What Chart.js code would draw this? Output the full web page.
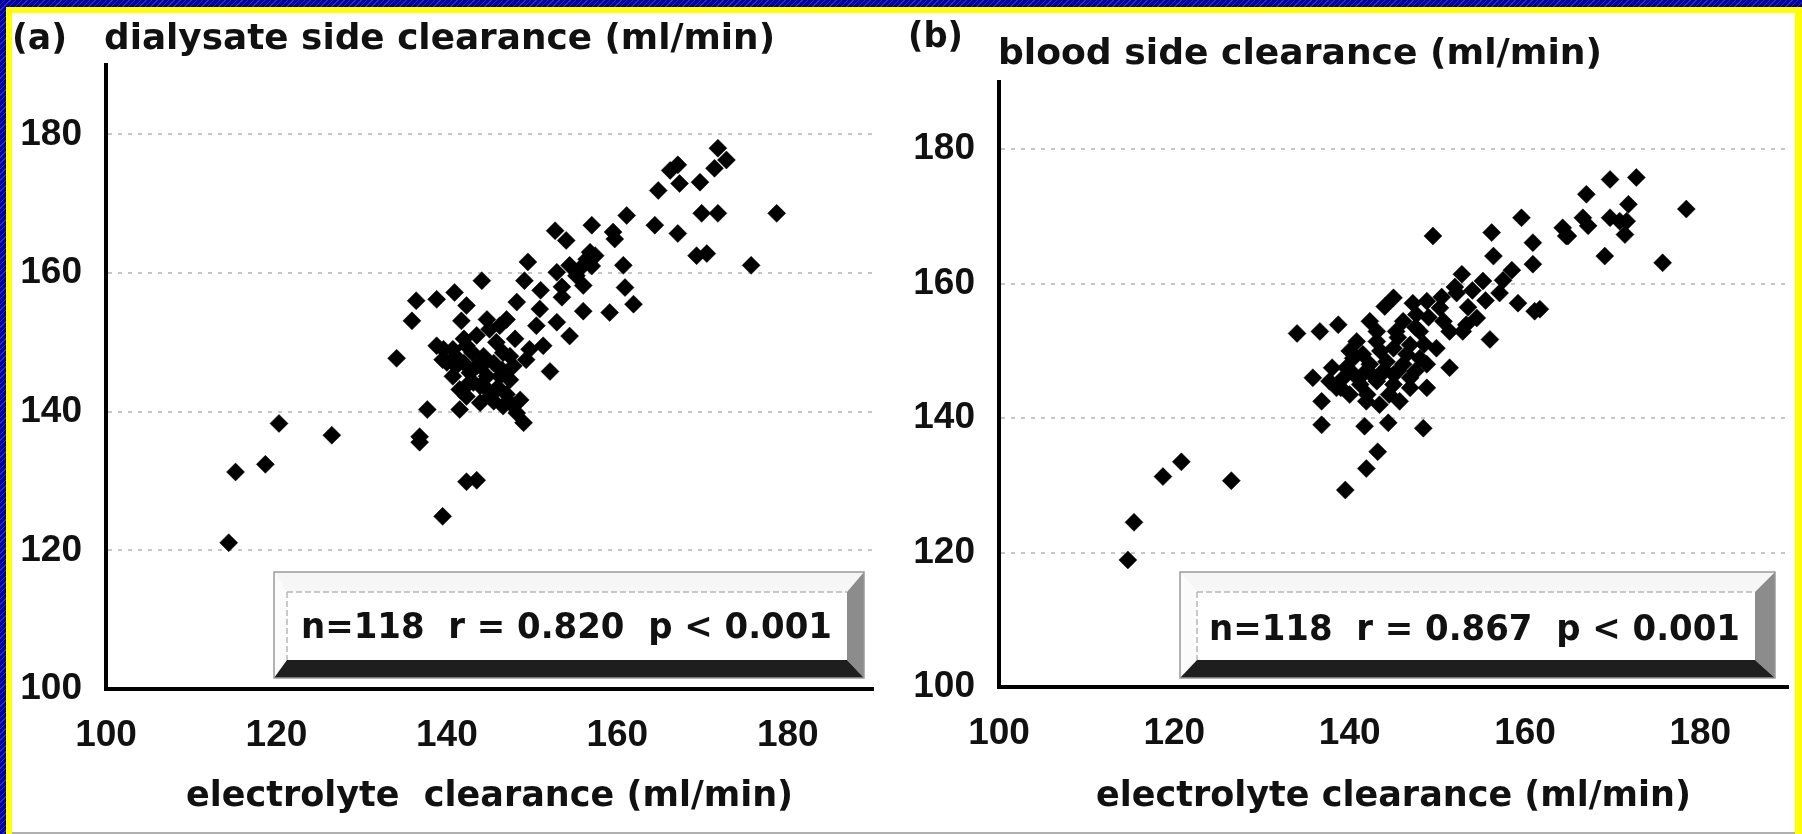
<!DOCTYPE html>
<html>
<head>
<meta charset="utf-8">
<script src="https://cdn.jsdelivr.net/npm/chart.js@4.4.0/dist/chart.umd.min.js"></script>
<style>
  html, body { margin: 0; padding: 0; }
  body {
    width: 1802px; height: 834px; position: relative; overflow: hidden;
    background: repeating-linear-gradient(135deg, #00009c 0 3px, #2a2ac4 3px 4px);
  }
  #frame { position: absolute; left: 6px; top: 7px; width: 1796px; height: 827px; background: #ffff00; }
  #paper { position: absolute; left: 12px; top: 13px; width: 1783px; height: 819px; background: #fff; border-bottom: 2px solid #b0b0b0; }
  canvas { position: absolute; left: 0; top: 0; }
</style>
</head>
<body>
<div id="frame"></div>
<div id="paper"></div>
<canvas id="chartA" width="1802" height="834"></canvas>
<canvas id="chartB" width="1802" height="834"></canvas>
<script>
// axis settings shared by both panels
var axisMin = 100;
var axisMax = 190;
var tickStep = 20;

// panel (a): electrolyte clearance vs dialysate side clearance (ml/min)
var electrolyteA = [
  114.4, 115.2, 118.7, 120.3, 126.5, 134.1, 136.8, 136.8, 137.7, 139.5, 142.3, 143.5,
  161.1, 164.4, 157.0, 159.5, 159.7, 152.7, 154.0, 156.8, 157.4, 155.6, 152.9, 154.4,
  156.0, 160.7, 149.5, 149.1, 144.1, 160.9, 161.9, 159.1, 156.0, 153.5, 148.2, 150.9,
  140.9, 142.3, 138.8, 136.4, 135.9, 141.7, 144.7, 146.2, 152.9, 154.4, 150.5, 149.7,
  151.3, 152.1, 138.8, 140.7, 142.3, 140.0, 144.3, 145.8, 147.4, 149.3, 146.2, 147.4,
  142.7, 140.7, 141.5, 143.9, 145.0, 142.3, 146.6, 148.6, 148.2, 149.0, 141.5,
  171.8, 172.8, 171.4, 167.1, 166.2, 167.3, 169.7, 164.8, 167.1, 169.9, 171.8, 178.7,
  169.3, 170.5, 175.7,
  139.6, 141.1, 143.5, 144.7, 143.1, 145.8, 143.9, 147.4, 147.8, 146.6, 145.0, 147.0,
  155.2, 156.4,
  139.5, 141.0, 142.0, 143.0, 144.0, 145.5, 146.5, 142.5, 144.5, 146.0, 145.5, 147.0,
  142.0, 143.5, 148.0, 157.0, 153.5, 151.0
];
var dialysateSide = [
  121.1, 131.3, 132.4, 138.3, 136.6, 147.7, 136.4, 135.6, 140.3, 124.9, 129.9, 130.1,
  168.3, 166.9, 166.9, 165.9, 164.9, 166.1, 164.7, 163.0, 162.5, 160.6, 160.1, 161.1,
  158.2, 161.1, 161.6, 158.9, 158.9, 157.9, 155.5, 154.3, 154.5, 156.5, 155.8, 154.8,
  157.2, 155.3, 156.2, 156.0, 153.1, 153.1, 153.3, 152.4, 152.9, 150.9, 152.4, 149.0,
  149.5, 145.8, 149.5, 149.0, 149.5, 147.1, 148.0, 150.0, 148.0, 147.5, 145.1, 144.6,
  145.6, 145.1, 143.2, 143.7, 142.2, 142.2, 140.8, 141.7, 139.8, 138.4, 140.3,
  178.0, 176.3, 175.1, 175.6, 174.8, 172.9, 173.1, 171.9, 165.7, 168.6, 168.6, 168.6,
  162.5, 162.8, 161.1,
  149.0, 146.6, 146.6, 145.1, 144.2, 143.2, 141.3, 141.3, 146.6, 148.5, 151.9, 153.3,
  159.6, 162.0,
  147.5, 148.0, 147.0, 148.5, 146.5, 147.0, 146.0, 144.0, 143.5, 143.5, 141.5, 142.5,
  150.5, 151.0, 150.5, 161.0, 158.0, 157.5
];

// panel (b): electrolyte clearance vs blood side clearance (ml/min)
var electrolyteB = [
  114.7, 115.4, 118.7, 120.8, 126.5, 139.5, 141.9, 143.2, 136.8, 141.7, 144.4, 148.4,
  136.8, 149.5, 156.2, 156.4, 160.9, 160.9, 164.7, 169.1, 152.8, 155.2, 152.2, 157.1,
  159.2, 161.7, 154.5, 156.0, 151.4, 150.3, 148.8, 147.2, 144.0, 138.7, 136.6, 142.3,
  146.1, 148.0, 140.8, 143.1, 145.0, 146.9, 149.9, 151.4, 140.4, 142.3, 144.2, 146.1,
  148.0, 135.8, 137.7, 139.3, 141.2, 143.1, 145.0, 146.9, 148.8, 140.0, 141.9, 143.4,
  145.7, 134.0, 169.7, 172.7, 167.0, 171.8, 178.4, 164.3, 164.9, 166.6, 167.2, 169.7,
  170.8, 171.6, 171.4, 159.6, 175.7, 161.1,
  145.0, 147.6, 150.7, 152.9, 143.1, 145.3, 148.8, 143.8, 138.5, 145.0, 141.5, 139.6,
  146.9, 153.3,
  139.0, 140.5, 142.5, 144.0, 145.5, 147.5, 141.5, 143.5, 145.5, 147.5, 149.0, 150.5,
  152.0, 154.0, 138.0, 142.0, 144.5, 146.5, 148.5, 140.0, 153.5, 155.5, 157.5, 158.5
];
var bloodSide = [
  118.9, 124.5, 131.3, 133.5, 130.7, 129.3, 132.5, 135.0, 139.0, 138.8, 139.3, 138.5,
  142.5, 167.1, 167.6, 164.1, 166.1, 162.9, 167.1, 164.1, 161.4, 160.4, 158.6, 158.6,
  157.1, 156.2, 154.9, 151.7, 152.9, 156.4, 157.4, 157.1, 156.6, 153.9, 152.9, 154.4,
  154.4, 152.9, 151.4, 151.4, 150.4, 150.9, 150.4, 147.5, 148.9, 148.0, 148.4, 148.0,
  148.9, 146.0, 145.5, 146.0, 145.0, 145.5, 145.0, 146.0, 144.5, 143.5, 142.5, 142.0,
  142.5, 152.6, 175.5, 175.8, 173.3, 171.8, 171.1, 168.3, 167.1, 169.8, 168.6, 169.8,
  169.3, 169.3, 167.3, 169.8, 163.1, 155.9,
  157.9, 155.4, 154.4, 152.9, 152.9, 152.9, 148.0, 147.0, 144.5, 146.5, 146.5, 147.5,
  144.5, 153.9,
  144.5, 146.5, 146.5, 147.0, 147.0, 147.0, 149.5, 150.0, 152.0, 153.5, 155.0, 158.0,
  159.5, 159.0, 147.5, 143.5, 143.5, 149.5, 151.0, 150.0, 156.5, 157.5, 160.5, 162.0
];

var statsA = 'n=118  r = 0.820  p < 0.001';
var statsB = 'n=118  r = 0.867  p < 0.001';

function toPoints(xs, ys) {
  return xs.map(function(x, i) { return { x: x, y: ys[i] }; });
}

var ink = '#111111';
var textFamily = '"DejaVu Sans", Verdana, sans-serif';
var tickFamily = '"Liberation Sans", Arial, sans-serif';

// draw text squeezed/stretched to a measured width
function fitText(ctx, text, x, baseline, width, font) {
  ctx.save();
  ctx.font = font;
  ctx.textAlign = 'left';
  ctx.textBaseline = 'alphabetic';
  ctx.fillStyle = ink;
  var w = ctx.measureText(text).width;
  ctx.translate(x, baseline);
  ctx.scale(width / w, 1);
  ctx.fillText(text, 0, 0);
  ctx.restore();
}

// 3D bevelled box holding the statistics
function drawBevelBox(ctx, b) {
  ctx.save();
  // top bevel
  ctx.fillStyle = '#f6f6f6';
  ctx.beginPath();
  ctx.moveTo(b.L, b.T); ctx.lineTo(b.R, b.T); ctx.lineTo(b.r, b.t); ctx.lineTo(b.l, b.t); ctx.closePath();
  ctx.fill();
  // left bevel
  ctx.fillStyle = '#fbfbfb';
  ctx.beginPath();
  ctx.moveTo(b.L, b.T); ctx.lineTo(b.l, b.t); ctx.lineTo(b.l, b.b); ctx.lineTo(b.L, b.B); ctx.closePath();
  ctx.fill();
  // right bevel
  ctx.fillStyle = '#8c8c8c';
  ctx.beginPath();
  ctx.moveTo(b.R, b.T); ctx.lineTo(b.R, b.B); ctx.lineTo(b.r, b.b); ctx.lineTo(b.r, b.t); ctx.closePath();
  ctx.fill();
  // bottom bevel
  ctx.fillStyle = '#1e1e1e';
  ctx.beginPath();
  ctx.moveTo(b.L, b.B); ctx.lineTo(b.l, b.b); ctx.lineTo(b.r, b.b); ctx.lineTo(b.R, b.B); ctx.closePath();
  ctx.fill();
  // face
  ctx.fillStyle = '#ffffff';
  ctx.fillRect(b.l, b.t, b.r - b.l, b.b - b.t);
  // edges
  ctx.strokeStyle = '#9a9a9a';
  ctx.lineWidth = 1.5;
  ctx.strokeRect(b.L, b.T, b.R - b.L, b.B - b.T);
  ctx.strokeStyle = '#b8b8b8';
  ctx.setLineDash([6, 3]);
  ctx.beginPath();
  ctx.moveTo(b.l, b.t); ctx.lineTo(b.r, b.t);
  ctx.moveTo(b.l, b.t); ctx.lineTo(b.l, b.b);
  ctx.stroke();
  ctx.restore();
}

var decorPlugin = {
  id: 'decor',
  afterDraw: function(chart, args, opts) {
    var ctx = chart.ctx;
    opts.texts.forEach(function(t) {
      fitText(ctx, t.text, t.x, t.y, t.w, 'bold ' + t.size + 'px ' + textFamily);
    });
    drawBevelBox(ctx, opts.box);
    var s = opts.stats;
    fitText(ctx, s.text, s.x, s.y, s.w, 'bold ' + s.size + 'px ' + textFamily);
  }
};

function makeChart(id, cfg) {
  var tickFont = { family: tickFamily, weight: 'bold', size: 37 };
  return new Chart(document.getElementById(id), {
    type: 'scatter',
    data: {
      datasets: [{
        data: toPoints(cfg.xs, cfg.ys),
        pointStyle: 'rectRot',
        pointRadius: 9,
        pointBackgroundColor: '#000',
        pointBorderColor: '#000',
        pointBorderWidth: 0.5
      }]
    },
    options: {
      responsive: false,
      animation: false,
      devicePixelRatio: 1,
      layout: { padding: cfg.padding },
      plugins: {
        legend: { display: false },
        tooltip: { enabled: false },
        decor: cfg.decor
      },
      scales: {
        x: {
          type: 'linear',
          min: axisMin,
          max: axisMax,
          afterFit: function(s) { s.height = cfg.xHeight; },
          ticks: { stepSize: tickStep, includeBounds: false, padding: 25, color: ink, font: tickFont, maxRotation: 0 },
          grid: { color: 'rgba(0,0,0,0)', drawTicks: false },
          border: { display: true, color: '#000', width: 4 },
          title: {
            display: true,
            text: cfg.xTitle,
            color: ink,
            font: { family: textFamily, weight: 'bold', size: 35 },
            padding: { top: 0, bottom: 16 }
          }
        },
        y: {
          type: 'linear',
          min: axisMin,
          max: axisMax,
          afterFit: function(s) { s.width = cfg.yWidth; },
          ticks: { stepSize: tickStep, includeBounds: false, padding: 24, color: ink, font: tickFont },
          grid: {
            drawTicks: false,
            lineWidth: 2,
            color: function(c) { return c.tick && c.tick.value === axisMin ? 'rgba(0,0,0,0)' : '#c6c6c6'; }
          },
          border: { display: true, color: '#000', width: 4, dash: [4, 6] }
        }
      }
    },
    plugins: [decorPlugin]
  });
}

makeChart('chartA', {
  xs: electrolyteA,
  ys: dialysateSide,
  xTitle: 'electrolyte  clearance (ml/min)',
  padding: { left: 10, right: 929, top: 65, bottom: 0 },
  yWidth: 96,
  xHeight: 145,
  decor: {
    texts: [
      { text: '(a)', x: 12, y: 49, w: 55, size: 35 },
      { text: 'dialysate side clearance (ml/min)', x: 104, y: 49, w: 671, size: 35 }
    ],
    box: { L: 274, T: 572, R: 864, B: 678, l: 287, t: 592, r: 847, b: 660 },
    stats: { text: statsA, x: 301, y: 638, w: 531, size: 35 }
  }
});

makeChart('chartB', {
  xs: electrolyteB,
  ys: bloodSide,
  xTitle: 'electrolyte clearance (ml/min)',
  padding: { left: 900, right: 14, top: 82, bottom: 0 },
  yWidth: 99,
  xHeight: 147,
  decor: {
    texts: [
      { text: '(b)', x: 908, y: 47, w: 55, size: 35 },
      { text: 'blood side clearance (ml/min)', x: 998, y: 64, w: 604, size: 35 }
    ],
    box: { L: 1180, T: 572, R: 1775, B: 678, l: 1197, t: 592, r: 1755, b: 660 },
    stats: { text: statsB, x: 1209, y: 640, w: 531, size: 35 }
  }
});
</script>
</body>
</html>
